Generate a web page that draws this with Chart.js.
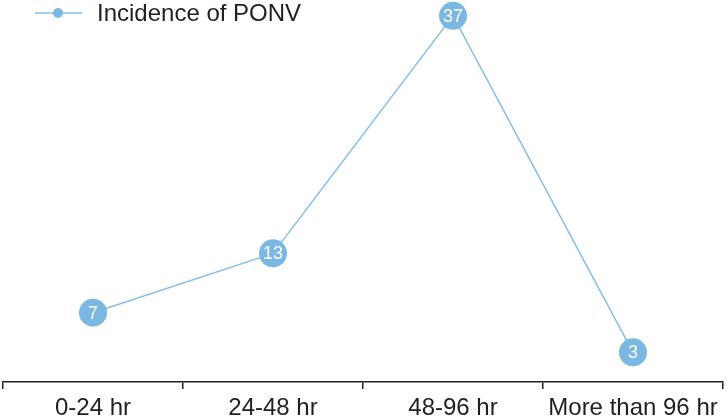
<!DOCTYPE html>
<html>
<head>
<meta charset="utf-8">
<script src="https://cdn.jsdelivr.net/npm/chart.js@4"></script>
<style>
  html, body { margin: 0; padding: 0; background: #fff; }
  #wrap { width: 726px; height: 420px; }
</style>
</head>
<body>
<div id="wrap"><canvas id="ponvChart"></canvas></div>
<script>
// data
const periods = ['0-24 hr', '24-48 hr', '48-96 hr', 'More than 96 hr'];
const incidence = [7, 13, 37, 3];
const seriesName = 'Incidence of PONV';

const FONT = '"Liberation Sans", Arial, Helvetica, sans-serif';
const BLUE = '#7ab7e2';
const LINE_BLUE = '#86bfe4';
const INK = '#231f20';

// legend drawn by hand: line with a dot, then the label
const legendPlugin = {
    id: 'lineDotLegend',
    afterDraw(chart) {
        const ctx = chart.ctx;
        ctx.save();
        ctx.strokeStyle = LINE_BLUE;
        ctx.lineWidth = 1.5;
        ctx.beginPath();
        ctx.moveTo(35, 13);
        ctx.lineTo(82, 13);
        ctx.stroke();
        ctx.fillStyle = BLUE;
        ctx.beginPath();
        ctx.arc(58, 13, 5, 0, Math.PI * 2);
        ctx.fill();
        ctx.fillStyle = INK;
        ctx.font = '24px ' + FONT;
        ctx.textBaseline = 'alphabetic';
        ctx.textAlign = 'left';
        ctx.fillText(chart.data.datasets[0].label, 97, 21);
        ctx.restore();
    }
};

// white value inside each point
const valueLabels = {
    id: 'valueLabels',
    afterDatasetsDraw(chart) {
        const ctx = chart.ctx;
        const meta = chart.getDatasetMeta(0);
        ctx.save();
        ctx.fillStyle = '#ffffff';
        ctx.font = '18px ' + FONT;
        ctx.textAlign = 'center';
        ctx.textBaseline = 'middle';
        meta.data.forEach((pt, i) => {
            ctx.fillText(String(chart.data.datasets[0].data[i]), pt.x, pt.y + 1);
        });
        ctx.restore();
    }
};

new Chart(document.getElementById('ponvChart'), {
    type: 'line',
    data: {
        labels: periods,
        datasets: [{
            label: seriesName,
            data: incidence,
            borderColor: LINE_BLUE,
            borderWidth: 1.5,
            backgroundColor: BLUE,
            pointBackgroundColor: BLUE,
            pointBorderWidth: 0,
            pointRadius: 14,
            pointHoverRadius: 14,
            tension: 0,
            clip: false
        }]
    },
    options: {
        responsive: true,
        maintainAspectRatio: false,
        animation: false,
        layout: { autoPadding: false, padding: { left: 3, right: 3, top: 0, bottom: -7 } },
        plugins: {
            legend: { display: false },
            tooltip: { enabled: false }
        },
        scales: {
            x: {
                offset: true,
                grid: {
                    display: true,
                    offset: true,
                    drawOnChartArea: false,
                    drawTicks: true,
                    tickLength: 7,
                    color: INK,
                    lineWidth: 1.5
                },
                border: { display: true, color: INK, width: 1.5 },
                ticks: {
                    color: INK,
                    padding: 7,
                    font: { family: FONT, size: 24, lineHeight: 1 },
                    maxRotation: 0,
                    autoSkip: false
                }
            },
            y: {
                display: false,
                min: 0,
                max: 38.6
            }
        }
    },
    plugins: [legendPlugin, valueLabels]
});
</script>
</body>
</html>
